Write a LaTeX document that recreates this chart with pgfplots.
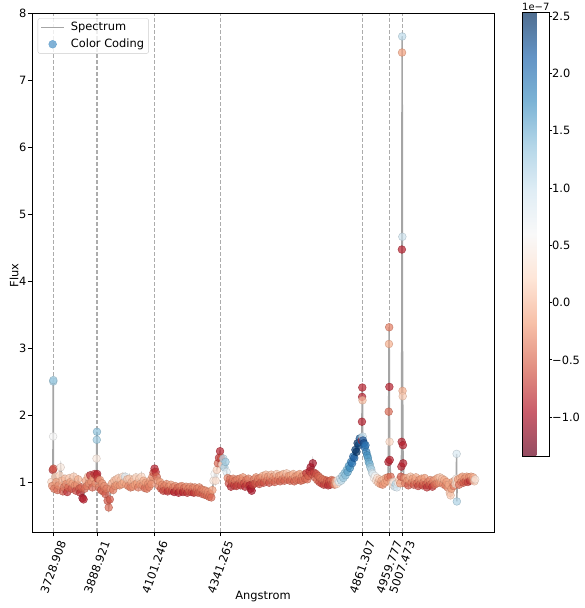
\documentclass[border=0pt]{standalone}
\usepackage{fontspec}
\setmainfont{DejaVu Sans}
\usepackage{pgfplots}
\usepackage{pgfplotstable}
\pgfplotsset{compat=1.18}
\pgfplotsset{
  colormap={rdbu}{rgb255=(103,0,31) rgb255=(178,24,43) rgb255=(214,96,77) rgb255=(244,165,130) rgb255=(253,219,199) rgb255=(247,247,247) rgb255=(209,229,240) rgb255=(146,197,222) rgb255=(67,147,195) rgb255=(33,102,172) rgb255=(5,48,97)},
  colormap={rdbufade}{rgb255=(149,77,98) rgb255=(201,93,107) rgb255=(226,144,130) rgb255=(247,192,168) rgb255=(254,230,216) rgb255=(249,249,249) rgb255=(223,237,245) rgb255=(179,214,232) rgb255=(123,179,213) rgb255=(100,148,197) rgb255=(80,110,144)},
}
\definecolor{specgray}{RGB}{165,165,165}
\definecolor{gridgray}{RGB}{172,172,172}
\definecolor{legdot}{RGB}{98,160,205}
\definecolor{legedge}{RGB}{204,204,204}

\pgfplotstableread{
x y c
3722 1.00 0.2
3725 0.94 -0.3
3727 1.18 -0.8
3728.3 1.68 0.6
3728.7 2.50 1.25
3729.1 2.52 1.3
3729.6 1.20 -0.6
3732 0.90 -0.4
3736 1.08 0.1
3740 1.00 -0.2
3744 0.88 -0.5
3748 0.95 -0.3
3752 1.10 0.2
3756 1.22 0.4
3760 1.02 -0.1
3764 0.86 -0.6
3768 0.92 -0.4
3772 1.05 0.0
3776 0.97 -0.3
3780 0.85 -0.8
3784 0.92 -0.5
3788 1.06 0.1
3792 1.00 -0.2
3796 0.90 -0.6
3800 0.98 -0.2
3804 1.08 0.1
3808 0.95 -0.3
3812 0.87 -0.7
3816 0.96 -0.3
3820 1.04 -0.1
3824 0.90 -0.6
3828 0.84 -0.8
3832 0.92 -0.5
3836 0.76 -1.0
3840 0.74 -0.9
3844 0.90 -0.5
3848 1.02 -0.2
3852 0.94 -0.4
3856 1.08 0.0
3860 0.98 -0.3
3864 1.10 -0.8
3868 1.00 -0.3
3872 0.92 -0.5
3876 1.06 -0.2
3880 1.12 -0.8
3884 0.98 -0.3
3886.5 1.10 -0.7
3887.3 1.35 0.4
3888.2 1.63 1.3
3888.9 1.75 1.4
3889.6 1.12 -0.9
3892 1.05 -0.7
3896 0.92 -0.4
3900 1.03 -0.2
3904 0.88 -0.6
3908 0.98 -0.3
3912 0.86 -0.5
3916 0.94 -0.3
3920 0.82 -0.6
3924 0.90 -0.4
3928 0.72 -0.6
3932 0.62 -0.5
3936 0.74 -0.6
3940 0.90 -0.3
3944 0.98 -0.2
3948 0.88 -0.4
3952 1.02 0.0
3956 0.94 -0.3
3960 1.04 0.0
3964 0.96 -0.2
3968 1.06 0.1
3972 0.95 -0.3
3976 1.03 0.0
3980 0.97 -0.2
3984 1.08 0.2
3988 1.00 -0.1
3992 1.08 0.9
3996 0.96 -0.2
4000 1.04 0.0
4004 0.94 -0.3
4008 1.05 0.1
4012 0.92 -0.4
4016 1.00 -0.1
4020 0.93 -0.3
4024 1.04 0.0
4028 0.96 -0.2
4032 1.07 0.2
4036 0.98 -0.2
4040 0.92 -0.4
4044 1.05 0.1
4048 0.97 -0.2
4052 1.08 0.2
4056 0.95 -0.3
4060 1.02 -0.1
4064 0.91 -0.5
4068 0.99 -0.2
4072 0.90 -0.4
4076 0.97 -0.3
4080 0.93 -0.4
4084 1.02 -0.2
4088 0.97 -0.3
4092 1.08 -0.3
4096 1.14 -0.6
4100 1.20 -0.9
4104 1.15 -0.8
4108 1.08 -0.5
4112 1.02 -0.3
4116 0.94 -0.4
4120 1.00 -0.2
4124 0.90 -0.6
4128 0.96 -0.3
4132 0.87 -0.7
4136 0.94 -0.4
4140 0.88 -0.6
4144 0.97 -0.3
4148 0.86 -0.8
4152 0.93 -0.4
4156 0.88 -0.6
4160 0.96 -0.2
4164 0.87 -0.7
4168 0.92 -0.4
4172 0.85 -0.9
4176 0.94 -0.3
4180 0.87 -0.7
4184 0.91 -0.5
4188 0.84 -0.9
4192 0.93 -0.4
4196 0.87 -0.6
4200 0.94 -0.3
4204 0.85 -0.9
4208 0.91 -0.5
4212 0.86 -0.7
4216 0.93 -0.3
4220 0.84 -0.8
4224 0.90 -0.4
4228 0.86 -0.6
4232 0.93 -0.3
4236 0.85 -0.7
4240 0.91 -0.4
4244 0.84 -0.8
4248 0.92 -0.3
4252 0.85 -0.6
4256 0.90 -0.4
4260 0.84 -0.6
4264 0.92 -0.3
4268 0.85 -0.5
4272 0.89 -0.4
4276 0.82 -0.6
4280 0.88 -0.3
4284 0.81 -0.5
4288 0.87 -0.3
4292 0.80 -0.5
4296 0.85 -0.3
4300 0.78 -0.5
4304 0.82 -0.4
4308 0.77 -0.5
4312 0.88 -0.2
4316 1.02 0.4
4320 1.12 0.6
4324 1.02 0.3
4328 1.18 0.2
4332 1.28 -0.5
4336 1.36 -0.8
4340 1.46 -0.9
4344 1.36 -0.6
4348 1.26 0.3
4352 1.35 1.1
4356 1.22 1.2
4360 1.30 1.3
4364 1.15 0.8
4368 1.06 -0.35
4372 0.98 -0.65
4376 1.04 -0.45
4380 0.93 -0.85
4384 1.00 -0.55
4388 1.05 -0.35
4392 0.95 -0.75
4396 1.02 -0.45
4400 0.94 -0.75
4404 1.04 -0.35
4408 0.97 -0.65
4412 1.05 -0.35
4416 0.95 -0.75
4420 1.02 -0.45
4424 1.07 -0.25
4428 0.98 -0.65
4432 0.93 -0.85
4436 1.03 -0.45
4440 0.97 -0.65
4444 1.05 -0.35
4448 0.95 -0.85
4452 0.90 -1.0
4456 0.87 -1.0
4460 0.96 -0.75
4464 1.04 -0.45
4468 0.98 -0.65
4472 1.07 -0.25
4476 1.00 -0.55
4480 1.05 -0.35
4484 0.97 -0.65
4488 1.06 -0.35
4492 1.00 -0.55
4496 1.09 -0.15
4500 0.99 -0.65
4504 1.06 -0.35
4508 1.11 -0.05
4512 1.02 -0.45
4516 1.08 -0.25
4520 0.99 -0.65
4524 1.06 -0.35
4528 1.11 -0.05
4532 1.02 -0.45
4536 1.08 -0.25
4540 1.00 -0.55
4544 1.06 -0.35
4548 1.12 0.05
4552 1.03 -0.45
4556 1.09 -0.25
4560 1.01 -0.55
4564 1.10 -0.15
4568 1.04 -0.45
4572 1.12 -0.05
4576 1.02 -0.55
4580 1.08 -0.35
4584 1.13 0.05
4588 1.04 -0.45
4592 1.09 -0.25
4596 1.02 -0.55
4600 1.10 -0.15
4604 1.04 -0.45
4608 1.12 -0.05
4612 1.01 -0.55
4616 1.08 -0.25
4620 1.03 -0.45
4624 1.10 -0.25
4628 1.04 -0.45
4632 1.12 -0.15
4636 1.02 -0.55
4640 1.08 -0.35
4644 1.03 -0.45
4648 1.11 -0.25
4652 1.05 -0.55
4656 1.13 -0.75
4660 1.04 -0.45
4664 1.09 -0.55
4668 1.16 -0.85
4672 1.22 -1.0
4676 1.12 -0.65
4680 1.28 -1.0
4684 1.14 -0.75
4688 1.07 -0.55
4692 1.12 -0.65
4696 1.03 -0.45
4700 1.09 -0.55
4704 1.00 -0.65
4708 1.06 -0.45
4712 0.98 -0.65
4716 1.04 -0.45
4720 0.96 -0.75
4724 1.03 -0.45
4728 0.97 -0.65
4732 1.02 -0.55
4736 0.95 -0.85
4740 1.01 -0.65
4744 0.96 -0.75
4748 1.03 -0.45
4752 0.97 -0.65
4756 1.02 -0.45
4760 0.96 -0.3
4764 1.01 0.0
4768 0.97 0.2
4772 1.03 0.5
4776 1.00 0.8
4780 1.05 1.0
4784 1.02 1.1
4788 1.09 1.2
4792 1.06 1.3
4796 1.13 1.4
4800 1.10 1.4
4804 1.18 1.5
4808 1.15 1.6
4812 1.24 1.7
4816 1.21 1.8
4820 1.30 1.9
4824 1.28 2.0
4828 1.38 2.1
4832 1.36 2.2
4836 1.48 2.4
4840 1.45 2.5
4844 1.58 2.5
4848 1.55 2.4
4852 1.65 2.3
4856 1.60 2.1
4858.5 1.66 1.5
4859.3 1.62 -0.9
4860 1.90 -0.9
4860.6 2.27 -0.9
4861.3 2.41 -0.9
4862 2.22 0.0
4862.8 1.68 1.0
4864 1.62 2.2
4867 1.58 2.3
4870 1.52 2.1
4873 1.55 2.0
4876 1.45 1.9
4879 1.40 1.8
4882 1.36 1.7
4885 1.30 1.6
4888 1.27 1.5
4891 1.22 1.3
4894 1.19 1.2
4897 1.14 1.0
4900 1.12 0.8
4904 1.06 0.5
4908 1.09 0.6
4912 1.02 0.3
4916 1.06 0.3
4920 0.99 0.0
4924 1.04 0.1
4928 0.97 -0.2
4932 1.02 -0.1
4936 0.96 -0.3
4940 1.04 0.0
4944 0.99 -0.2
4948 1.06 -0.1
4952 1.02 -0.2
4955 1.07 -0.4
4957 1.30 -0.9
4958 2.05 -0.5
4959 3.06 -0.1
4959.8 3.31 -0.4
4960.5 2.42 -0.9
4961.3 1.60 0.2
4962 1.33 -0.9
4965 1.08 -0.5
4968 1.00 -0.1
4972 0.96 0.3
4976 1.00 0.5
4980 0.93 1.0
4984 0.97 1.1
4988 0.92 0.9
4992 0.99 0.5
4996 1.03 0.1
5000 0.98 -0.2
5003 1.08 -0.6
5004.5 1.23 -0.9
5005.5 1.60 -0.9
5006.3 4.47 -0.9
5007 7.41 -0.2
5007.5 7.65 1.1
5008.1 4.66 1.0
5008.8 2.36 -0.1
5009.4 2.28 0.1
5010.2 1.55 -0.9
5011 1.28 -0.9
5014 1.06 -0.4
5018 0.98 -0.4
5022 1.06 -0.1
5026 1.02 -0.3
5030 0.95 -0.6
5034 1.03 -0.2
5038 1.08 0.0
5042 0.99 -0.4
5046 1.05 -0.2
5050 0.96 -0.6
5054 1.02 -0.3
5058 1.07 -0.1
5062 0.98 -0.5
5066 0.94 -0.7
5070 1.03 -0.3
5074 0.97 -0.5
5078 1.05 -0.2
5082 0.95 -0.7
5086 1.00 -0.4
5090 1.06 -0.2
5094 0.96 -0.6
5098 0.92 -0.8
5102 1.00 -0.4
5106 0.95 -0.7
5110 1.03 -0.3
5114 0.97 -0.5
5118 0.93 -0.8
5122 1.02 -0.3
5126 0.96 -0.5
5130 1.04 -0.2
5134 0.98 -0.4
5138 1.06 -0.1
5142 0.99 -0.3
5146 1.07 0.1
5150 1.00 -0.2
5154 1.05 0.0
5158 0.97 -0.3
5162 1.03 -0.1
5166 0.95 -0.4
5170 1.00 -0.2
5174 0.92 -0.3
5178 0.96 -0.1
5182 0.84 0.0
5185 0.80 0.1
5188 0.90 -0.2
5192 1.00 -0.2
5196 0.94 -0.4
5200 1.02 -0.1
5203 0.97 0.3
5205.5 1.05 0.5
5207 1.42 0.9
5207.8 0.71 1.2
5209 0.98 0.2
5212 1.04 -0.2
5216 0.96 -0.5
5220 1.06 -0.1
5224 1.00 -0.4
5228 1.08 -0.2
5232 0.99 -0.6
5236 1.05 -0.3
5240 1.01 -0.6
5244 1.08 -0.2
5248 1.00 -0.7
5252 1.07 -0.3
5256 1.02 -0.8
5260 1.08 -0.2
5264 1.03 -0.5
5268 1.07 -0.1
5272 1.01 0.1
5275 1.04 0.4
}\spec

\begin{document}
\fontsize{11.4}{13.7}\selectfont
\begin{tikzpicture}[font=\fontsize{11.4}{13.7}\selectfont]
\useasboundingbox (-32pt,-76pt) rectangle (552pt,532pt);
\begin{axis}[
  at={(0pt,0pt)}, anchor=south west,
  scale only axis, width=462pt, height=519pt,
  xmin=3650.85, xmax=5343.95, ymin=0.254, ymax=8.0,
  xtick={3728.908,3888.921,4101.246,4341.265,4861.307,4959.777,5007.473},
  xticklabels={3728.908,3888.921,4101.246,4341.265,4861.307,4959.777,5007.473},
  ytick={1,2,3,4,5,6,7,8},
  /pgf/number format/assume math mode=true,
  tick align=outside, major tick length=4pt,
  xtick pos=bottom, ytick pos=left,
  tick style={black, line width=0.9pt},
  axis line style={black, line width=0.9pt},
  xmajorgrids,
  major grid style={gridgray, line width=1.1pt, dash pattern=on 4.2pt off 1.8pt},
  xticklabel style={inner sep=0pt, xshift=9.3pt, yshift=-5.5pt, rotate=70, anchor=east},
  yticklabel style={inner sep=0pt, xshift=-1.3pt},
  xlabel={Angstrom}, ylabel={Flux},
  every axis x label/.style={at={(axis description cs:0.5,0)}, yshift=-65pt, anchor=center},
  every axis y label/.style={at={(axis description cs:0,0.5)}, xshift=-18pt, yshift=-3pt, rotate=90, anchor=center},
  legend style={at={(0,1)}, anchor=north west, xshift=5.7pt, yshift=-5.3pt,
    draw=legedge, rounded corners=2pt, fill=white, fill opacity=0.8, text opacity=1,
    row sep=2.4pt, column sep=4pt, inner xsep=2.5pt, inner ysep=2pt, nodes={inner sep=2pt}},
  legend cell align=left,
  legend image code/.code={\draw[mark repeat=2,mark phase=2,#1] plot coordinates {(0pt,0pt) (11.5pt,0pt) (23pt,0pt)};},
  colormap name=rdbufade,
  point meta min=-1.338, point meta max=2.535,
  colorbar,
  colorbar style={
    name=cbar,
    at={(parent axis.north east)}, anchor=north west, xshift=19.5pt, yshift=1pt,
    scale only axis, width=27pt, height=444pt,
    ytick={-1,-0.5,0,0.5,1,1.5,2,2.5},
    yticklabels={−1.0,−0.5,0.0,0.5,1.0,1.5,2.0,2.5},
    ytick pos=right, yticklabel pos=right,
    xtick=\empty, xmajorgrids=false,
    tick align=outside, major tick length=3pt,
    yticklabel style={inner sep=0pt, xshift=0pt},
    tick style={black, line width=0.9pt},
    axis line style={black, line width=0.9pt},
  },
]
\addplot[scatter, only marks, mark=*, colormap name=rdbu, point meta=explicit,
  mark size=3.9pt, mark options={line width=0.5pt, fill opacity=0.7, draw opacity=0.7},
  forget plot] table[x=x, y=y, meta=c] {\spec};
\addplot[no marks, specgray, line width=1.5pt] table[x=x, y=y] {\spec};
\addlegendentry{Spectrum}
\addlegendimage{only marks, mark=*, mark size=3.9pt, legdot}
\addlegendentry{Color Coding}
\end{axis}
\node[anchor=base west, inner sep=0pt, font=\fontsize{10}{12}\selectfont] at ([yshift=1pt]cbar.north west) {1e−7};
\end{tikzpicture}
\end{document}
